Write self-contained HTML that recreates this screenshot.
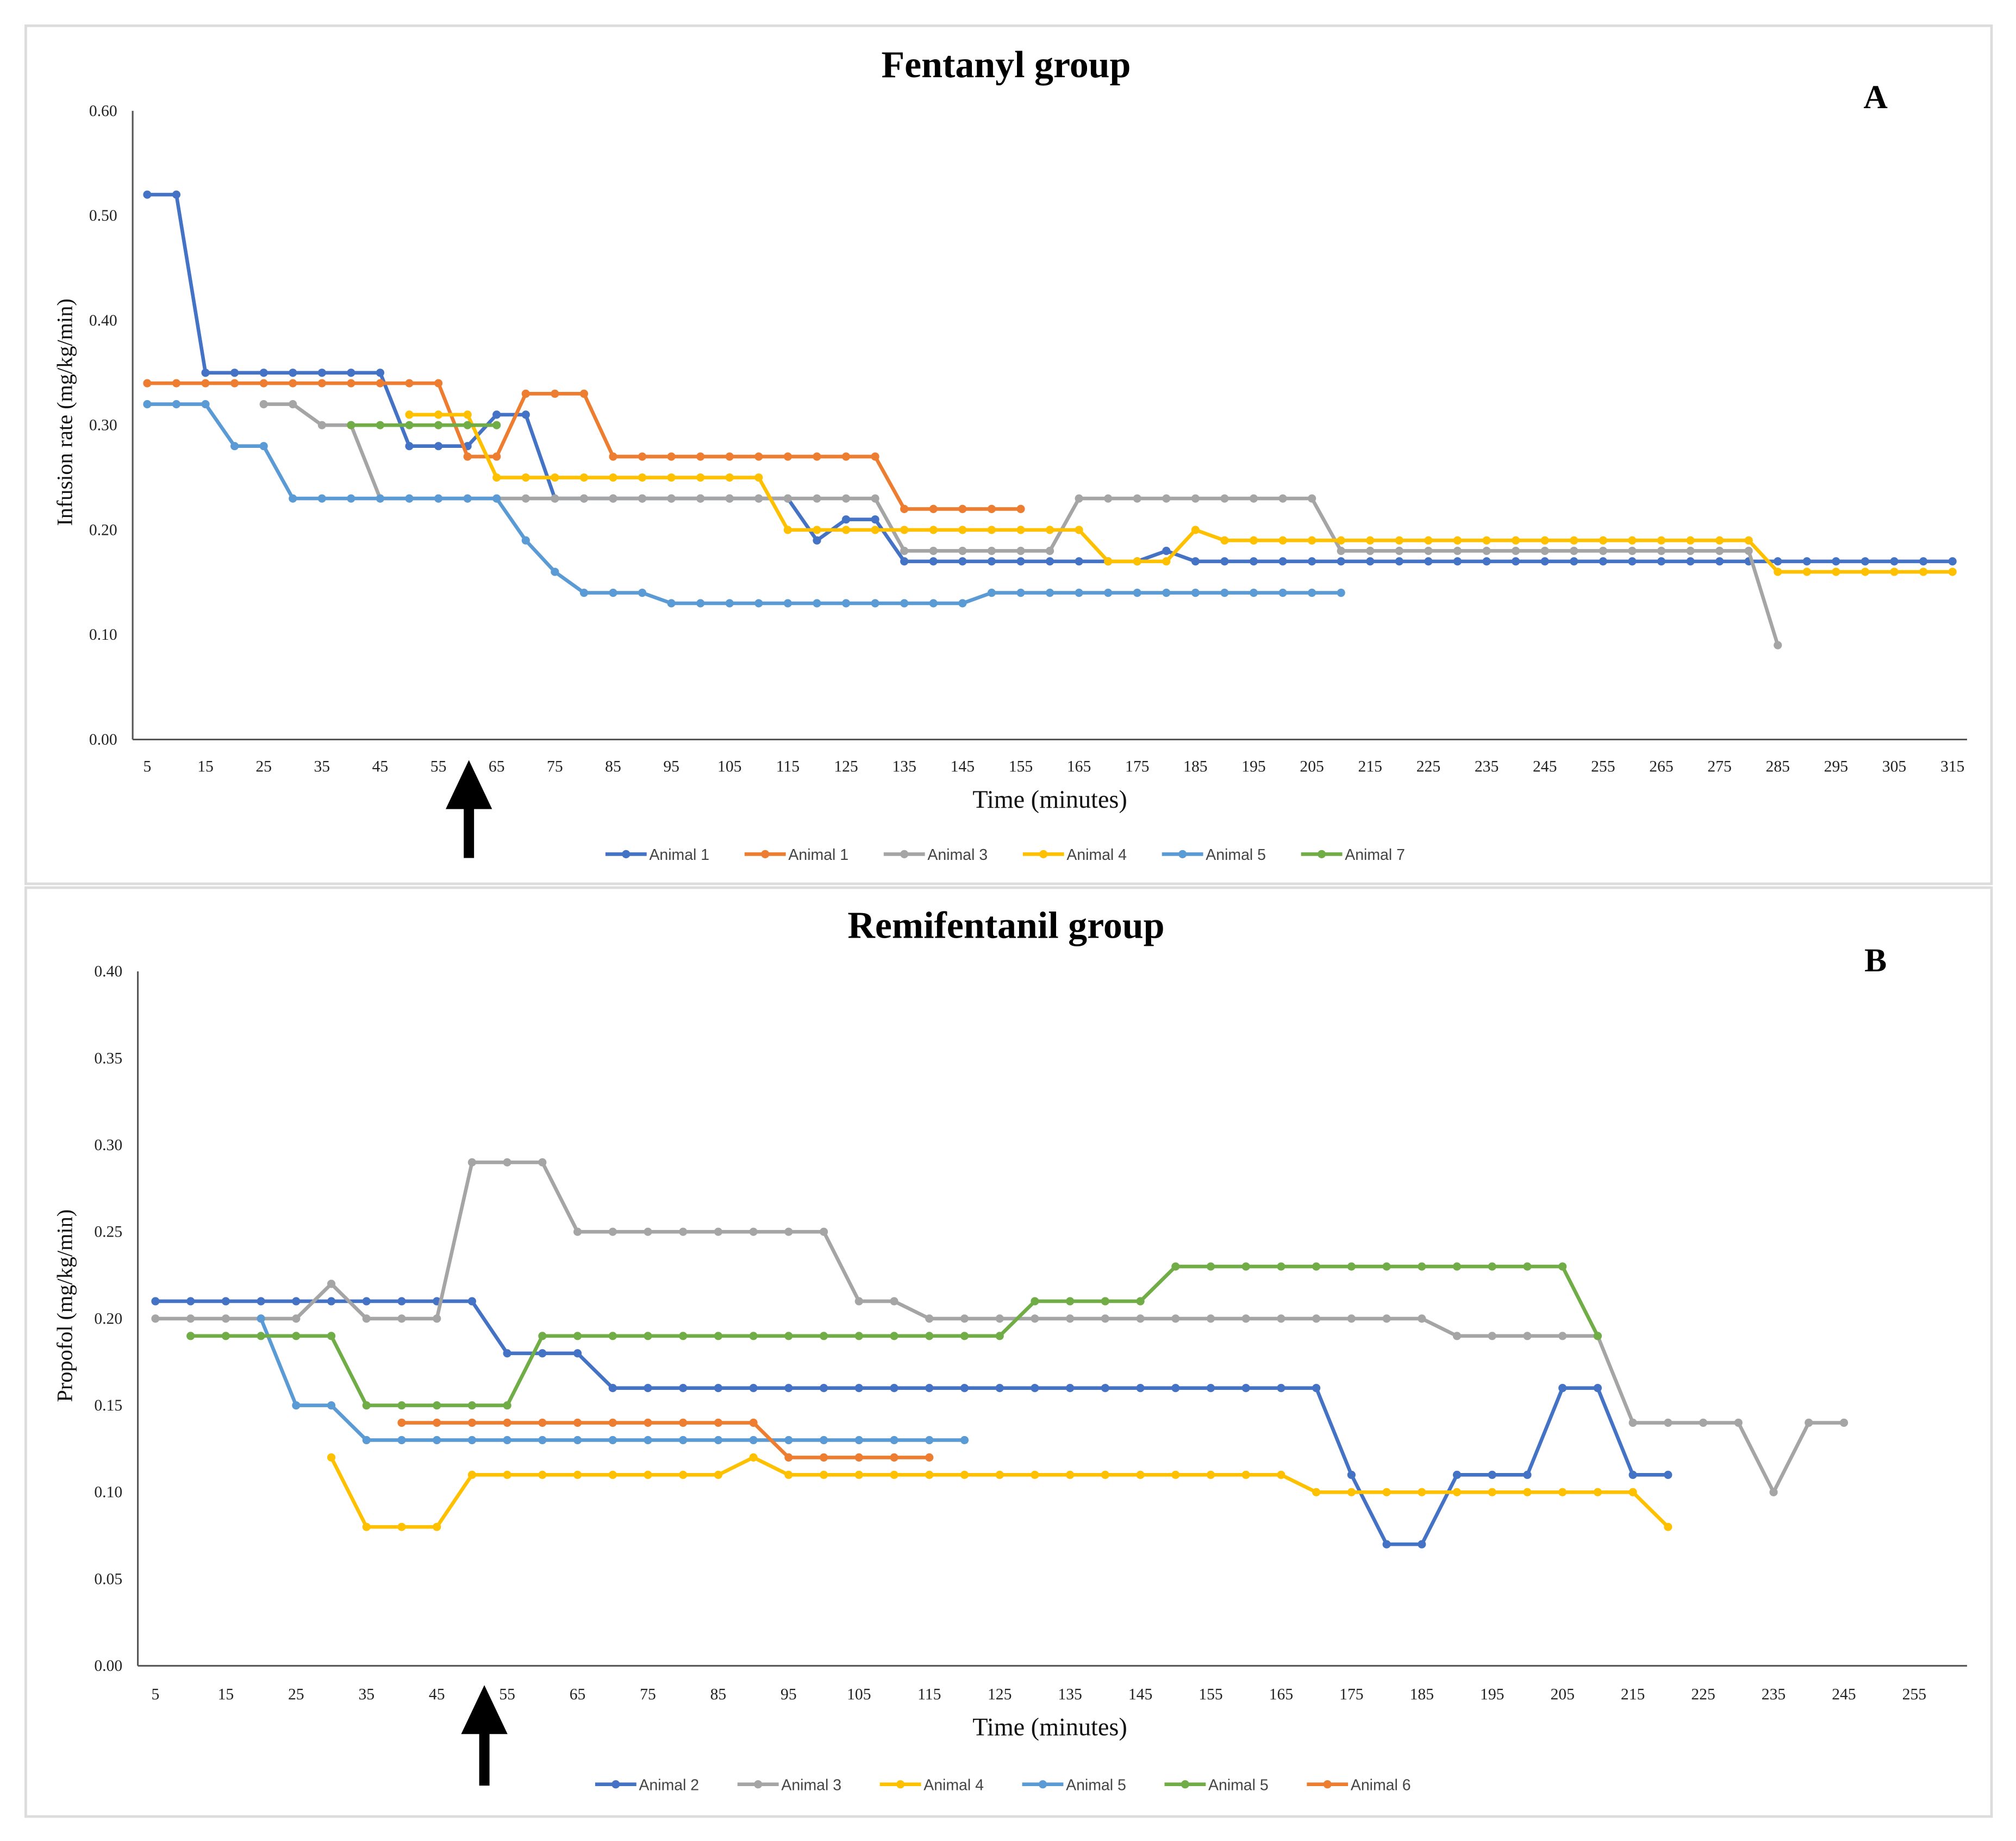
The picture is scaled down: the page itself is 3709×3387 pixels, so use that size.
<!DOCTYPE html>
<html><head><meta charset="utf-8"><style>
html,body{margin:0;padding:0;background:#fff;}
svg{display:block;}
</style></head><body>
<svg id="fig" width="3709" height="3387" viewBox="0 0 1565 1429" preserveAspectRatio="none" xmlns="http://www.w3.org/2000/svg">
<rect x="0" y="0" width="1565" height="1429" fill="#fff"/>
<rect x="20" y="20" width="1526" height="666" fill="none" stroke="#dcdcdc" stroke-width="2"/>
<rect x="20" y="689" width="1526" height="721" fill="none" stroke="#dcdcdc" stroke-width="2"/>
<text x="781" y="60" text-anchor="middle" font-family="Liberation Serif, serif" font-weight="bold" font-size="29.5">Fentanyl group</text>
<text x="1456" y="84" text-anchor="middle" font-family="Liberation Serif, serif" font-weight="bold" font-size="26">A</text>
<text x="781" y="728" text-anchor="middle" font-family="Liberation Serif, serif" font-weight="bold" font-size="29.5">Remifentanil group</text>
<text x="1456" y="754" text-anchor="middle" font-family="Liberation Serif, serif" font-weight="bold" font-size="26">B</text>
<g id="chartA"></g>
<g id="chartB"></g>
<polygon points="364,590 382,628 368,628 368,666 360,666 360,628 346,628" fill="#000"/>
<polygon points="376,1308 394,1346 380,1346 380,1386 372,1386 372,1346 358,1346" fill="#000"/>
</svg>
<script>
// ---- Chart A data (Fentanyl), times 5..315 step 5 ----
const catsA = [5,10,15,20,25,30,35,40,45,50,55,60,65,70,75,80,85,90,95,100,105,110,115,120,125,130,135,140,145,150,155,160,165,170,175,180,185,190,195,200,205,210,215,220,225,230,235,240,245,250,255,260,265,270,275,280,285,290,295,300,305,310,315];
const ticksA = [0,0.1,0.2,0.3,0.4,0.5,0.6];
const tickLabelsA = ["0.00","0.10","0.20","0.30","0.40","0.50","0.60"];
const namesA = ["Animal 1","Animal 1","Animal 3","Animal 4","Animal 5","Animal 7"];
const colorsA = ["#4472C4","#ED7D31","#A5A5A5","#FFC000","#5B9BD5","#70AD47"];
const fA1 = [0.52,0.52,0.35,0.35,0.35,0.35,0.35,0.35,0.35,0.28,0.28,0.28,0.31,0.31,0.23,0.23,0.23,0.23,0.23,0.23,0.23,0.23,0.23,0.19,0.21,0.21,0.17,0.17,0.17,0.17,0.17,0.17,0.17,0.17,0.17,0.18,0.17,0.17,0.17,0.17,0.17,0.17,0.17,0.17,0.17,0.17,0.17,0.17,0.17,0.17,0.17,0.17,0.17,0.17,0.17,0.17,0.17,0.17,0.17,0.17,0.17,0.17,0.17];
const fA1o = [0.34,0.34,0.34,0.34,0.34,0.34,0.34,0.34,0.34,0.34,0.34,0.27,0.27,0.33,0.33,0.33,0.27,0.27,0.27,0.27,0.27,0.27,0.27,0.27,0.27,0.27,0.22,0.22,0.22,0.22,0.22];
const fA3 = [null,null,null,null,0.32,0.32,0.30,0.30,0.23,0.23,0.23,0.23,0.23,0.23,0.23,0.23,0.23,0.23,0.23,0.23,0.23,0.23,0.23,0.23,0.23,0.23,0.18,0.18,0.18,0.18,0.18,0.18,0.23,0.23,0.23,0.23,0.23,0.23,0.23,0.23,0.23,0.18,0.18,0.18,0.18,0.18,0.18,0.18,0.18,0.18,0.18,0.18,0.18,0.18,0.18,0.18,0.09];
const fA4 = [null,null,null,null,null,null,null,null,null,0.31,0.31,0.31,0.25,0.25,0.25,0.25,0.25,0.25,0.25,0.25,0.25,0.25,0.20,0.20,0.20,0.20,0.20,0.20,0.20,0.20,0.20,0.20,0.20,0.17,0.17,0.17,0.20,0.19,0.19,0.19,0.19,0.19,0.19,0.19,0.19,0.19,0.19,0.19,0.19,0.19,0.19,0.19,0.19,0.19,0.19,0.19,0.16,0.16,0.16,0.16,0.16,0.16,0.16];
const fA5 = [0.32,0.32,0.32,0.28,0.28,0.23,0.23,0.23,0.23,0.23,0.23,0.23,0.23,0.19,0.16,0.14,0.14,0.14,0.13,0.13,0.13,0.13,0.13,0.13,0.13,0.13,0.13,0.13,0.13,0.14,0.14,0.14,0.14,0.14,0.14,0.14,0.14,0.14,0.14,0.14,0.14,0.14];
const fA7 = [null,null,null,null,null,null,null,0.30,0.30,0.30,0.30,0.30,0.30];

// ---- Chart B data (Remifentanil), times 5..260 step 5 ----
const catsB = [5,10,15,20,25,30,35,40,45,50,55,60,65,70,75,80,85,90,95,100,105,110,115,120,125,130,135,140,145,150,155,160,165,170,175,180,185,190,195,200,205,210,215,220,225,230,235,240,245,250,255,260];
const ticksB = [0,0.05,0.1,0.15,0.2,0.25,0.3,0.35,0.4];
const tickLabelsB = ["0.00","0.05","0.10","0.15","0.20","0.25","0.30","0.35","0.40"];
const namesB = ["Animal 2","Animal 3","Animal 4","Animal 5","Animal 5","Animal 6"];
const colorsB = ["#4472C4","#A5A5A5","#FFC000","#5B9BD5","#70AD47","#ED7D31"];
const rB2 = [0.21,0.21,0.21,0.21,0.21,0.21,0.21,0.21,0.21,0.21,0.18,0.18,0.18,0.16,0.16,0.16,0.16,0.16,0.16,0.16,0.16,0.16,0.16,0.16,0.16,0.16,0.16,0.16,0.16,0.16,0.16,0.16,0.16,0.16,0.11,0.07,0.07,0.11,0.11,0.11,0.16,0.16,0.11,0.11];
const rB3 = [0.20,0.20,0.20,0.20,0.20,0.22,0.20,0.20,0.20,0.29,0.29,0.29,0.25,0.25,0.25,0.25,0.25,0.25,0.25,0.25,0.21,0.21,0.20,0.20,0.20,0.20,0.20,0.20,0.20,0.20,0.20,0.20,0.20,0.20,0.20,0.20,0.20,0.19,0.19,0.19,0.19,0.19,0.14,0.14,0.14,0.14,0.10,0.14,0.14];
const rB4 = [null,null,null,null,null,0.12,0.08,0.08,0.08,0.11,0.11,0.11,0.11,0.11,0.11,0.11,0.11,0.12,0.11,0.11,0.11,0.11,0.11,0.11,0.11,0.11,0.11,0.11,0.11,0.11,0.11,0.11,0.11,0.10,0.10,0.10,0.10,0.10,0.10,0.10,0.10,0.10,0.10,0.08];
const rB5 = [null,null,null,0.20,0.15,0.15,0.13,0.13,0.13,0.13,0.13,0.13,0.13,0.13,0.13,0.13,0.13,0.13,0.13,0.13,0.13,0.13,0.13,0.13];
const rB5g = [null,0.19,0.19,0.19,0.19,0.19,0.15,0.15,0.15,0.15,0.15,0.19,0.19,0.19,0.19,0.19,0.19,0.19,0.19,0.19,0.19,0.19,0.19,0.19,0.19,0.21,0.21,0.21,0.21,0.23,0.23,0.23,0.23,0.23,0.23,0.23,0.23,0.23,0.23,0.23,0.23,0.19];
const rB6 = [null,null,null,null,null,null,null,0.14,0.14,0.14,0.14,0.14,0.14,0.14,0.14,0.14,0.14,0.14,0.12,0.12,0.12,0.12,0.12];

const NS = "http://www.w3.org/2000/svg";
function mk(tag, attrs, parent){ const e=document.createElementNS(NS,tag); for(const k in attrs) e.setAttribute(k,attrs[k]); parent.appendChild(e); return e; }

function drawChart(g, cfg){
  const {cats, ticks, tickLabels, series, names, colors, left, right, top, bottom, ymax, xTitle, yTitle, yTitleX, legendX, legendStep, legendY, xLabelY} = cfg;
  const step = (right-left)/cats.length;
  const xs = i => left + step*(i+0.5);
  const ys = v => bottom - (v/ymax)*(bottom-top);
  const ya = mk('line',{x1:left,y1:top,x2:left,y2:bottom,stroke:'#555','stroke-width':1.3},g);
  
  
  const xa = mk('line',{x1:left,y1:bottom,x2:right,y2:bottom,stroke:'#555','stroke-width':1.3},g);
  
  
  ticks.forEach((t,i)=>{
    const tx = mk('text',{x:left-12,y:ys(t)+4,'text-anchor':'end','font-family':'Liberation Serif, serif','font-size':12.5,fill:'#222'},g);
    tx.textContent = tickLabels[i];
    
    
  });
  cats.forEach((c,i)=>{
    if(i%2!==0) return;
    const tx = mk('text',{x:xs(i),y:xLabelY,'text-anchor':'middle','font-family':'Liberation Serif, serif','font-size':12.5,fill:'#222'},g);
    tx.textContent = String(c);
    
    
  });
  const xt = mk('text',{x:815,y:xLabelY+28,'text-anchor':'middle','font-family':'Liberation Serif, serif','font-size':19.5,fill:'#111'},g);
  xt.textContent = xTitle;
  
  
  const cy = (top+bottom)/2 - 10;
  const yt = mk('text',{x:yTitleX,y:cy,'text-anchor':'middle','font-family':'Liberation Serif, serif','font-size':17,fill:'#111',transform:`rotate(-90 ${yTitleX} ${cy})`},g);
  yt.textContent = yTitle;
  
  
  series.forEach((s,si)=>{
    const sg = mk('g',{},g);
    
    
    let d='';
    s.forEach((v,i)=>{ if(v==null) return; d += (d===''?'M':'L')+xs(i).toFixed(2)+','+ys(v).toFixed(2); });
    const p = mk('path',{d:d,fill:'none',stroke:colors[si],'stroke-width':2.8,'stroke-linejoin':'round'},sg);
    
    
    s.forEach((v,i)=>{ if(v==null) return;
      const c = mk('circle',{cx:xs(i),cy:ys(v),r:3.2,fill:colors[si]},sg);
      
      
    });
  });
  names.forEach((n,i)=>{
    const lx = legendX + legendStep*i;
    const lg = mk('g',{},g);
    
    
    mk('line',{x1:lx,y1:legendY,x2:lx+32,y2:legendY,stroke:colors[i],'stroke-width':2.8},lg);
    mk('circle',{cx:lx+16,cy:legendY,r:3.2,fill:colors[i]},lg);
    const t = mk('text',{x:lx+34,y:legendY+4.5,'font-family':'Liberation Sans, sans-serif','font-size':12,fill:'#444'},lg);
    t.textContent = n;
  });
}

drawChart(document.getElementById('chartA'),{
  cats:catsA, ticks:ticksA, tickLabels:tickLabelsA, series:[fA1,fA1o,fA3,fA4,fA5,fA7], names:namesA, colors:colorsA,
  left:103, right:1527, top:86, bottom:574, ymax:0.6, xTitle:'Time (minutes)', yTitle:'Infusion rate (mg/kg/min)', yTitleX:56,
  legendX:470, legendStep:108, legendY:663, xLabelY:599
});
drawChart(document.getElementById('chartB'),{
  cats:catsB, ticks:ticksB, tickLabels:tickLabelsB, series:[rB2,rB3,rB4,rB5,rB5g,rB6], names:namesB, colors:colorsB,
  left:107, right:1527, top:754, bottom:1293, ymax:0.4, xTitle:'Time (minutes)', yTitle:'Propofol (mg/kg/min)', yTitleX:56,
  legendX:462, legendStep:110.5, legendY:1385, xLabelY:1319
});
</script>
</body></html>
